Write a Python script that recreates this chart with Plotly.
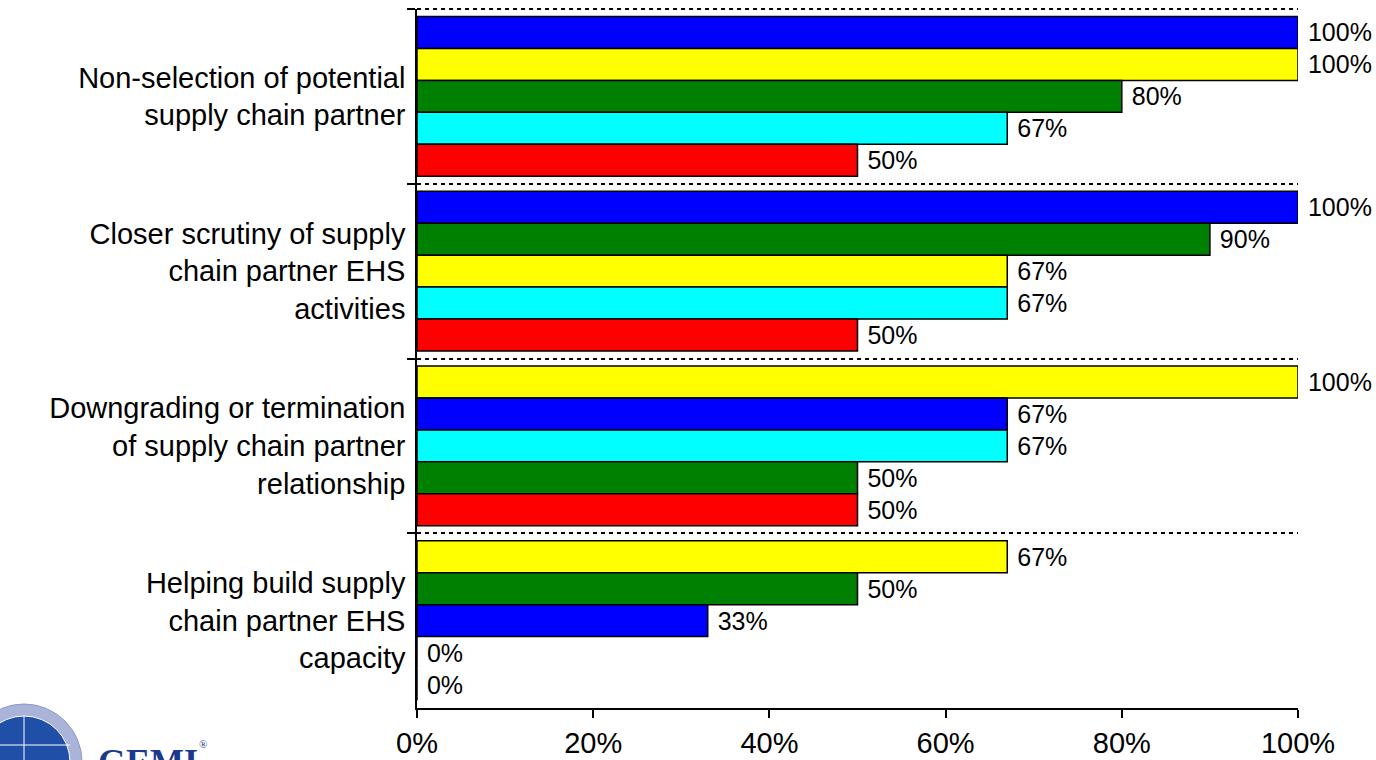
import plotly.graph_objects as go

# Survey categories (top to bottom)
categories = [
    "Non-selection of potential<br>supply chain partner",
    "Closer scrutiny of supply<br>chain partner EHS<br>activities",
    "Downgrading or termination<br>of supply chain partner<br>relationship",
    "Helping build supply<br>chain partner EHS<br>capacity",
]

# Share of respondents (%) per series, one value per category
series_names = ["blue", "yellow", "green", "cyan", "red"]
blue_vals = [100, 100, 67, 33]
yellow_vals = [100, 67, 100, 67]
green_vals = [80, 90, 50, 50]
cyan_vals = [67, 67, 67, 0]
red_vals = [50, 50, 50, 0]

series_colors = {
    "blue": "#0000FF",
    "yellow": "#FFFF00",
    "green": "#008000",
    "cyan": "#00FFFF",
    "red": "#FF0000",
}
series_values = {
    "blue": blue_vals,
    "yellow": yellow_vals,
    "green": green_vals,
    "cyan": cyan_vals,
    "red": red_vals,
}

x_tickvals = [0, 20, 40, 60, 80, 100]

FONT = "Liberation Sans, Arial, sans-serif"
GRID_DASH = "4px,4px"

# Within every category the bars are ordered from largest to smallest,
# so build one trace per rank with per-bar colours.
ranked = []
for ci in range(len(categories)):
    items = [(series_values[s][ci], s) for s in series_names]
    items = sorted(items, key=lambda t: -t[0])  # stable sort keeps ties in series order
    ranked.append(items)

fig = go.Figure()
for rank in range(len(series_names)):
    xs = [ranked[ci][rank][0] for ci in range(len(categories))]
    cols = [series_colors[ranked[ci][rank][1]] for ci in range(len(categories))]
    fig.add_trace(go.Bar(
        y=categories,
        x=xs,
        orientation="h",
        marker=dict(color=cols, line=dict(color="black", width=1.5)),
        # leading no-break space keeps a small gap between bar end and label
        text=[f"\u00a0{v}%" for v in xs],
        textposition="outside",
        outsidetextfont=dict(family=FONT, size=25, color="black"),
        constraintext="none",
        cliponaxis=False,
        showlegend=False,
        hoverinfo="skip",
    ))

W, H = 1376, 760
ML, MR, MT, MB = 417, 78, 9, 52
PW, PH = W - ML - MR, H - MT - MB


def px_to_paper_x(px):
    return (px - ML) / PW


def px_to_paper_y(py):
    return (H - MB - py) / PH


# dotted separator along the top edge of the plot area
top_rule = dict(type="line", xref="paper", yref="paper", x0=0, x1=1, y0=1, y1=1,
                line=dict(color="black", width=2, dash=GRID_DASH), layer="below")

# GEMI logo in the lower-left corner (partly cut by the page edge)
logo_shapes = [
    dict(type="circle", xref="paper", yref="paper",
         x0=px_to_paper_x(-34), x1=px_to_paper_x(82),
         y0=px_to_paper_y(820), y1=px_to_paper_y(704),
         fillcolor="#a9b4d8", line=dict(color="#8d9ac8", width=1), layer="above"),
    dict(type="circle", xref="paper", yref="paper",
         x0=px_to_paper_x(-22), x1=px_to_paper_x(70),
         y0=px_to_paper_y(808), y1=px_to_paper_y(716),
         fillcolor="#1f4fa6", line=dict(color="#ffffff", width=1), layer="above"),
    dict(type="line", xref="paper", yref="paper",
         x0=px_to_paper_x(24), x1=px_to_paper_x(24),
         y0=px_to_paper_y(716), y1=px_to_paper_y(808),
         line=dict(color="#ffffff", width=1), layer="above"),
    dict(type="line", xref="paper", yref="paper",
         x0=px_to_paper_x(-22), x1=px_to_paper_x(70),
         y0=px_to_paper_y(745), y1=px_to_paper_y(745),
         line=dict(color="#ffffff", width=1), layer="above"),
]

logo_annotations = [
    dict(text="<b>GEMI</b>", xref="paper", yref="paper",
         x=px_to_paper_x(96), y=px_to_paper_y(740),
         xanchor="left", yanchor="top", showarrow=False,
         font=dict(family="Liberation Serif, Times New Roman, serif", size=36, color="#1b3a8c")),
    dict(text="®", xref="paper", yref="paper",
         x=px_to_paper_x(197), y=px_to_paper_y(736),
         xanchor="left", yanchor="top", showarrow=False,
         font=dict(family="Liberation Serif, serif", size=11, color="#1b3a8c")),
]

fig.update_layout(
    width=W, height=H,
    margin=dict(l=ML, r=MR, t=MT, b=MB, pad=0),
    paper_bgcolor="white",
    plot_bgcolor="white",
    barmode="group",
    bargap=0.086,
    bargroupgap=0,
    font=dict(family=FONT, color="black"),
    shapes=[top_rule] + logo_shapes,
    annotations=logo_annotations,
    xaxis=dict(
        range=[0, 100],
        tickvals=x_tickvals,
        ticktext=[f"{v}%" for v in x_tickvals],
        ticks="outside", ticklen=8, tickwidth=1.5, tickcolor="black",
        showline=True, linecolor="black", linewidth=1.5,
        showgrid=False, zeroline=False,
        tickfont=dict(family=FONT, size=29, color="black"),
        automargin=False,
        fixedrange=True,
    ),
    yaxis=dict(
        type="category",
        categoryorder="array", categoryarray=categories,
        autorange="reversed",
        tickson="boundaries",
        ticks="outside", ticklen=8, tickwidth=1.5, tickcolor="black",
        showline=True, linecolor="black", linewidth=1.5,
        showgrid=True, gridcolor="black", gridwidth=2, griddash=GRID_DASH,
        zeroline=False,
        tickfont=dict(family=FONT, size=29, color="black"),
        ticklabelstandoff=4,
        automargin=False,
        fixedrange=True,
    ),
)

fig.write_html("out.html")
